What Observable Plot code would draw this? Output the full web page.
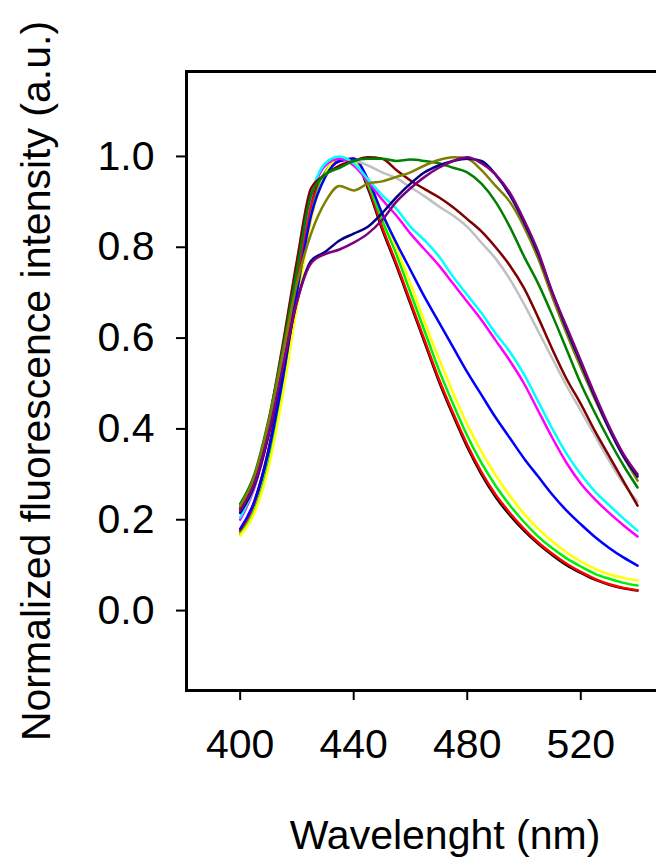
<!DOCTYPE html>
<html><head><meta charset="utf-8">
<script src="https://cdn.jsdelivr.net/npm/d3@7"></script>
<script src="https://cdn.jsdelivr.net/npm/@observablehq/plot@0.6"></script>
<style>
html,body{margin:0;padding:0;background:#fff;overflow:hidden;width:656px;height:863px;}
#chart{width:700px;height:863px;overflow:visible;}
#chart svg{display:block;max-width:none !important;width:700px !important;height:863px !important;}
#chart svg g[aria-label^="x-axis"] line, #chart svg g[aria-label^="x-axis"] path,
#chart svg g[aria-label^="y-axis"] line, #chart svg g[aria-label^="y-axis"] path{stroke-width:2px;}
</style></head><body><div id="chart"></div>
<script>
const wavelengths = [400,405,410,415,420,425,430,435,440,445,450,455,460,465,470,475,480,485,490,495,500,505,510,515,520,525,530,535,540];

const black   = [0.175,0.24,0.355,0.525,0.725,0.895,0.965,0.99,0.995,0.93,0.84,0.76,0.675,0.59,0.505,0.43,0.36,0.3,0.25,0.21,0.176,0.147,0.122,0.1,0.083,0.068,0.057,0.049,0.044];
const red     = [0.175,0.235,0.35,0.52,0.72,0.89,0.965,0.99,0.995,0.935,0.845,0.765,0.68,0.595,0.51,0.435,0.365,0.305,0.255,0.215,0.18,0.15,0.125,0.103,0.085,0.07,0.058,0.05,0.045];
const lime    = [0.168,0.22,0.325,0.49,0.69,0.87,0.965,0.995,0.99,0.94,0.86,0.785,0.7,0.615,0.53,0.455,0.385,0.325,0.275,0.232,0.195,0.163,0.137,0.115,0.097,0.081,0.07,0.061,0.055];
const yellow  = [0.165,0.215,0.315,0.475,0.67,0.86,0.96,0.998,0.99,0.95,0.875,0.8,0.72,0.635,0.555,0.48,0.41,0.35,0.298,0.253,0.213,0.18,0.152,0.128,0.108,0.092,0.08,0.072,0.066];
const blue    = [0.18,0.24,0.35,0.51,0.7,0.87,0.955,0.99,0.995,0.95,0.875,0.81,0.75,0.69,0.635,0.58,0.525,0.475,0.425,0.38,0.335,0.295,0.255,0.22,0.19,0.162,0.138,0.117,0.099];
const magenta = [0.2,0.27,0.39,0.56,0.75,0.91,0.98,0.995,0.98,0.945,0.905,0.87,0.83,0.795,0.76,0.72,0.68,0.64,0.595,0.55,0.5,0.44,0.38,0.325,0.28,0.245,0.215,0.188,0.163];
const cyan    = [0.205,0.275,0.4,0.57,0.76,0.915,0.985,1.0,0.985,0.95,0.915,0.885,0.845,0.815,0.78,0.735,0.695,0.655,0.61,0.57,0.52,0.46,0.4,0.345,0.3,0.262,0.232,0.203,0.176];
const gray    = [0.22,0.29,0.415,0.585,0.77,0.93,0.96,0.975,0.99,0.98,0.965,0.952,0.932,0.912,0.89,0.87,0.845,0.81,0.775,0.73,0.675,0.615,0.555,0.495,0.44,0.385,0.33,0.28,0.24];
const brown   = [0.225,0.29,0.415,0.585,0.77,0.93,0.96,0.98,0.99,0.998,0.995,0.97,0.947,0.928,0.91,0.888,0.862,0.835,0.8,0.76,0.71,0.645,0.575,0.51,0.455,0.395,0.34,0.285,0.231];
const darkgreen = [0.235,0.3,0.42,0.575,0.75,0.915,0.96,0.975,0.99,0.995,0.995,0.99,0.993,0.99,0.985,0.975,0.965,0.94,0.9,0.845,0.78,0.72,0.65,0.575,0.5,0.435,0.375,0.32,0.271];
const olive   = [0.23,0.295,0.415,0.565,0.72,0.83,0.9,0.935,0.925,0.94,0.945,0.955,0.965,0.98,0.992,0.998,0.995,0.97,0.935,0.9,0.845,0.775,0.69,0.61,0.535,0.465,0.4,0.34,0.286];
const navy    = [0.215,0.275,0.385,0.53,0.68,0.77,0.79,0.815,0.83,0.845,0.875,0.91,0.94,0.965,0.98,0.99,0.995,0.99,0.96,0.915,0.855,0.785,0.7,0.62,0.545,0.47,0.4,0.34,0.295];
const purple  = [0.22,0.28,0.39,0.535,0.68,0.765,0.785,0.795,0.81,0.83,0.86,0.9,0.93,0.955,0.975,0.99,0.998,0.985,0.96,0.92,0.86,0.79,0.7,0.625,0.55,0.475,0.405,0.345,0.3];

const seriesValues = [black, red, lime, yellow, blue, magenta, cyan, gray, brown, darkgreen, olive, navy, purple];
const seriesColors = ["#000000","#ff0000","#00ee00","#ffff00","#0000ff","#ff00ff","#00ffff","#c0c0c0","#800000","#008000","#808000","#000080","#800080"];

const xTicks = [400, 440, 480, 520];
const yTicks = [0, 0.2, 0.4, 0.6, 0.8, 1.0];
const xTitle = "Wavelenght (nm)";
const yTitle = "Normalized fluorescence intensity (a.u.)";

const lineMarks = seriesValues.map((vals, i) =>
  Plot.line(wavelengths.map((w, j) => ({wl: w, v: vals[j]})), {
    x: "wl", y: "v", stroke: seriesColors[i], strokeWidth: 2.5, curve: "monotone-x"
  })
);

const chart = Plot.plot({
  width: 700,
  height: 863,
  marginLeft: 186,
  marginRight: 9,
  marginTop: 71,
  marginBottom: 173,
  style: {fontFamily: "'Liberation Sans', Arial, sans-serif", fontSize: "41px", color: "#000", background: "#fff", maxWidth: "none"},
  x: {domain: [381.1, 559], ticks: xTicks, tickSize: 10, tickPadding: 28, tickFormat: d3.format("d"), label: null},
  y: {domain: [-0.176, 1.187], ticks: yTicks, tickSize: 10, tickPadding: 22, tickFormat: d3.format(".1f"), label: null},
  marks: [
    ...lineMarks,
    Plot.frame({stroke: "#000", strokeWidth: 3}),
    Plot.text([xTitle], {text: d => d, frameAnchor: "bottom", dx: 6, dy: 158, lineAnchor: "bottom", fontSize: 41, fill: "#000"}),
    Plot.text([yTitle], {text: d => d, frameAnchor: "left", dx: -137, rotate: -90, lineAnchor: "bottom", textAnchor: "middle", fontSize: 41, fill: "#000"})
  ]
});
document.getElementById("chart").appendChild(chart);
</script>
</body></html>
